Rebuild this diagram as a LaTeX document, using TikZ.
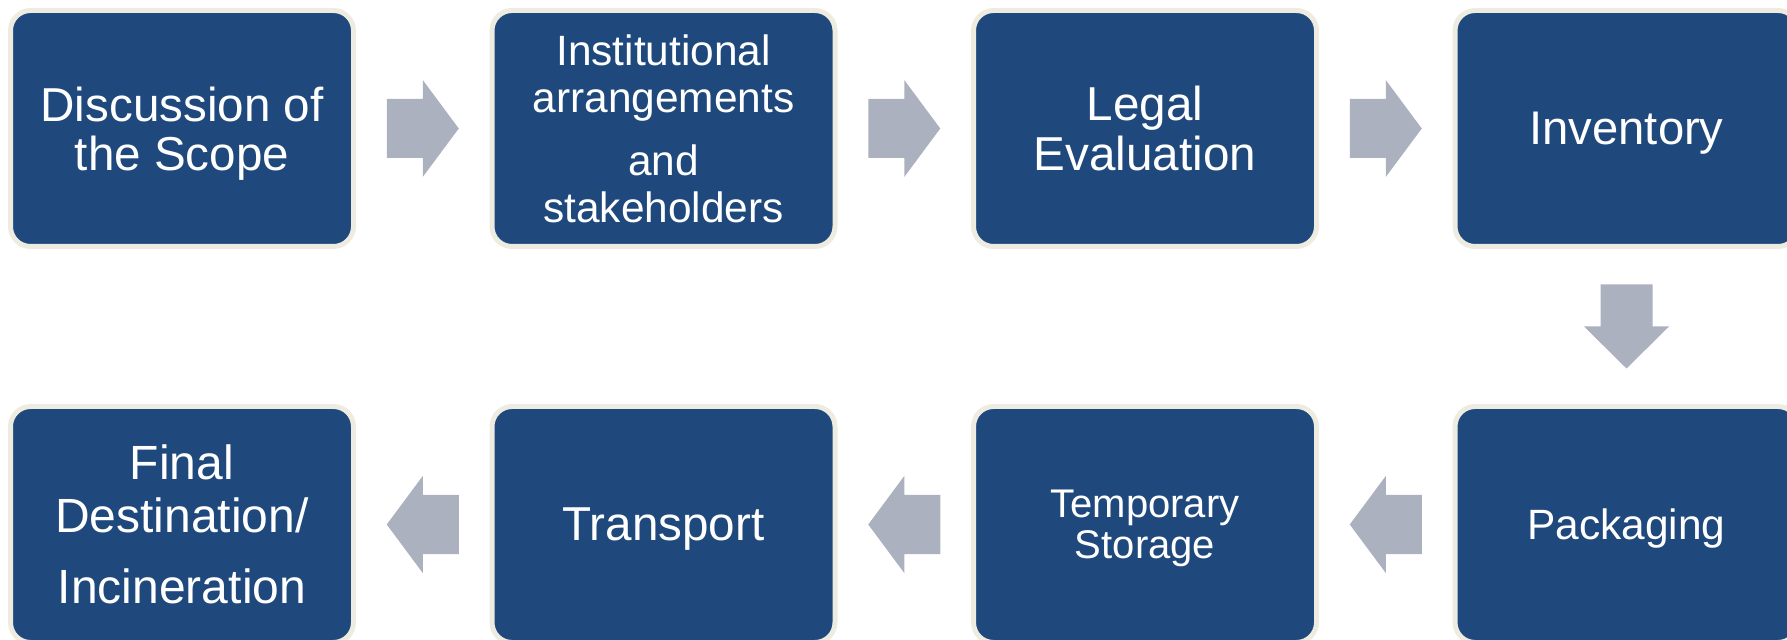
\documentclass[tikz,border=0pt]{standalone}
\usepackage{fontspec}
\setmainfont{Liberation Sans}
\usetikzlibrary{positioning,calc}

\definecolor{stepblue}{HTML}{1F497D}
\definecolor{stepedge}{HTML}{EEECE1}
\definecolor{arrowgray}{HTML}{ACB1BF}

\tikzset{
  stepbox/.style={draw=stepedge,line width=2.5pt,fill=stepblue,rounded corners=10pt,
    minimum width=171.5pt,minimum height=118pt,inner sep=0pt,text depth=0pt,
    text=white,align=center},
  flowarrow/.pic={
    \fill[arrowgray] (-18pt,-14.75pt) -- (0pt,-14.75pt) -- (0pt,-24.25pt) -- (18pt,0pt)
      -- (0pt,24.25pt) -- (0pt,14.75pt) -- (-18pt,14.75pt) -- cycle;},
  droparrow/.pic={
    \fill[arrowgray] (-21pt,-13pt) -- (0pt,-13pt) -- (0pt,-21.25pt) -- (21pt,0pt)
      -- (0pt,21.25pt) -- (0pt,13pt) -- (-21pt,13pt) -- cycle;}
}

\begin{document}
\begin{tikzpicture}[node distance=240.75pt,on grid]
\useasboundingbox (0pt,0pt) rectangle (893.5pt,-320pt);

% top row, left to right
\node[stepbox,font=\fontsize{23.8}{24.5}\selectfont] (disc) at (91pt,-64.25pt) {Discussion of\\the Scope};
\node[stepbox,font=\fontsize{21.2}{23.5}\selectfont] (inst) [right=of disc] {Institutional\\arrangements\\[8pt]and\\stakeholders};
\node[stepbox,font=\fontsize{23.8}{25}\selectfont] (legal) [right=of inst] {Legal\\Evaluation};
\node[stepbox,font=\fontsize{23.6}{26}\selectfont] (inv) [right=of legal] {Inventory};

% bottom row, right to left
\node[stepbox,font=\fontsize{21.2}{23.5}\selectfont] (pack) [below=198pt of inv] {Packaging};
\node[stepbox,font=\fontsize{20}{20.5}\selectfont] (store) [left=of pack] {Temporary\\Storage};
\node[stepbox,font=\fontsize{23.8}{26}\selectfont] (trans) [left=of store] {Transport};
\node[stepbox,font=\fontsize{24}{26.5}\selectfont] (final) [left=of trans] {Final\\Destination/\\[9pt]Incineration};

% block arrows
\pic at ($(disc)!0.5!(inst)$) {flowarrow};
\pic at ($(inst)!0.5!(legal)$) {flowarrow};
\pic at ($(legal)!0.5!(inv)$) {flowarrow};
\pic[rotate=-90] at ($(inv)!0.5!(pack)$) {droparrow};
\pic[rotate=180] at ($(pack)!0.5!(store)$) {flowarrow};
\pic[rotate=180] at ($(store)!0.5!(trans)$) {flowarrow};
\pic[rotate=180] at ($(trans)!0.5!(final)$) {flowarrow};
\end{tikzpicture}
\end{document}
